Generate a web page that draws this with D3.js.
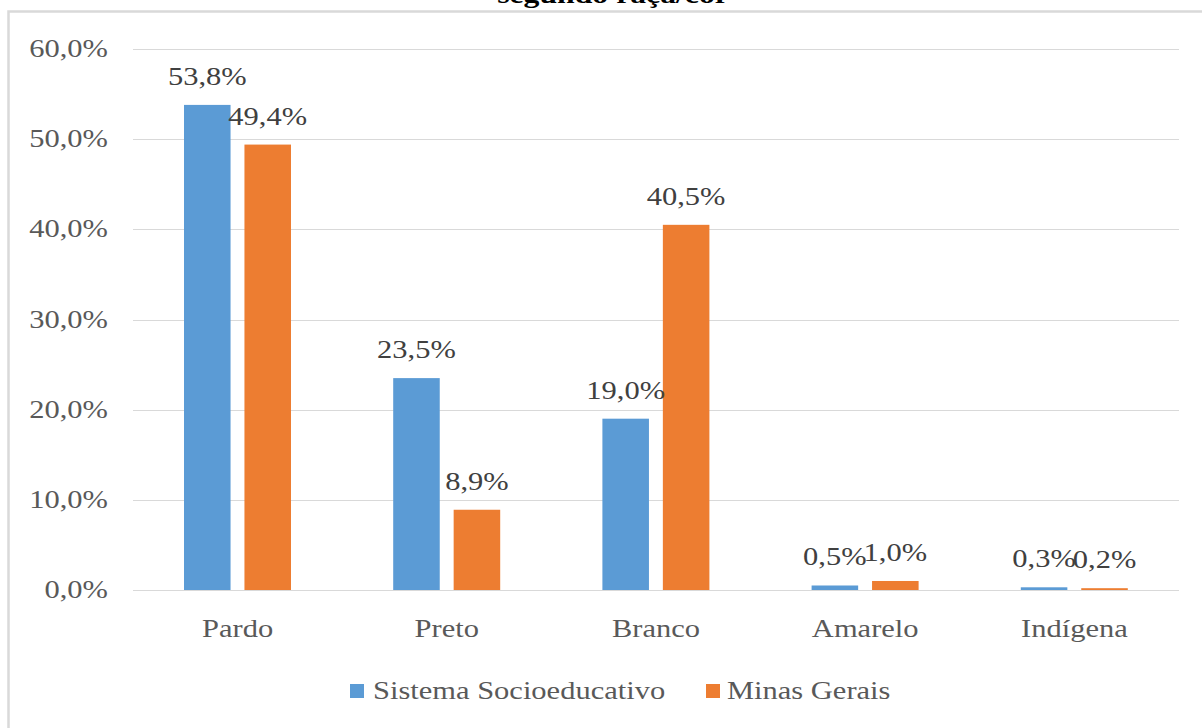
<!DOCTYPE html>
<html>
<head>
<meta charset="utf-8">
<script src="https://cdn.jsdelivr.net/npm/d3@7"></script>
<style>
  html, body { margin: 0; padding: 0; background: #fff; overflow: hidden; }
  text { font-family: "Liberation Serif", "Times New Roman", serif; }
</style>
</head>
<body>
<div id="chart"></div>
<script>
var categories = ["Pardo", "Preto", "Branco", "Amarelo", "Indígena"];
var seriesNames = ["Sistema Socioeducativo", "Minas Gerais"];
var socioeducativo = [53.8, 23.5, 19.0, 0.5, 0.3];
var minasGerais = [49.4, 8.9, 40.5, 1.0, 0.2];
var yTicks = [0, 10, 20, 30, 40, 50, 60];
var colors = ["#5b9bd5", "#ed7d31"];

var W = 1202, H = 728;
var stretch = 1.22;
var fmt = (v) => v.toFixed(1).replace(".", ",") + "%";

var svg = d3.select("#chart").append("svg")
    .attr("width", W)
    .attr("height", H);

// outer frame, runs off the right and bottom
svg.append("rect")
    .attr("x", 8.5).attr("y", 11.5)
    .attr("width", 1300).attr("height", 800)
    .attr("fill", "none")
    .attr("stroke", "#d9d9d9")
    .attr("stroke-width", 2.5);

// helper: horizontally stretched text like the source image
function sText(g, x, y, str, opts) {
    var t = g.append("g")
        .attr("transform", "translate(" + x + "," + y + ") scale(" + stretch + ",1)")
        .append("text")
        .attr("x", 0).attr("y", 0)
        .attr("text-anchor", opts.anchor || "middle")
        .attr("font-size", opts.size || 25)
        .attr("fill", opts.fill || "#595959")
        .text(str);
    if (opts.bold) t.attr("font-weight", "bold");
    return t;
}

// clipped title
sText(svg, 613, 3, "segundo raça/cor", { size: 26, fill: "#000", bold: true });

var plotLeft = 133, plotRight = 1179, plotTop = 49, plotBottom = 590;

var x = d3.scaleBand().domain(categories).range([plotLeft, plotRight]);
var x1 = d3.scaleBand().domain(seriesNames).range([51, 158]).paddingInner(0.23);
var y = d3.scaleLinear().domain([0, 60]).range([plotBottom, plotTop]);

// gridlines
svg.append("g").selectAll("line")
    .data(yTicks)
    .enter()
    .append("line")
    .attr("x1", plotLeft).attr("x2", plotRight)
    .attr("y1", (d) => Math.round(y(d)) + 0.5)
    .attr("y2", (d) => Math.round(y(d)) + 0.5)
    .attr("stroke", "#d9d9d9")
    .attr("stroke-width", 1.2);

// y tick labels
yTicks.forEach((d) => {
    sText(svg, 108, y(d) + 8, fmt(d), { anchor: "end" });
});

// bars
var rows = categories.map((c, i) => ({ cat: c, vals: [socioeducativo[i], minasGerais[i]] }));
var groups = svg.selectAll(".grp")
    .data(rows)
    .enter()
    .append("g")
    .attr("class", "grp")
    .attr("transform", (d) => "translate(" + x(d.cat) + ",0)");

groups.selectAll("rect")
    .data((d) => d.vals.map((v, j) => ({ v: v, s: seriesNames[j], j: j })))
    .enter()
    .append("rect")
    .attr("x", (d) => x1(d.s))
    .attr("width", x1.bandwidth())
    .attr("y", (d) => y(d.v))
    .attr("height", (d) => plotBottom - y(d.v))
    .attr("fill", (d) => colors[d.j]);

// value labels
rows.forEach((r) => {
    r.vals.forEach((v, j) => {
        var cx = x(r.cat) + x1(seriesNames[j]) + x1.bandwidth() / 2;
        sText(svg, cx, y(v) - 20, fmt(v), { fill: "#404040" });
    });
});

// category labels
categories.forEach((c) => {
    sText(svg, x(c) + x.bandwidth() / 2, 637, c, {});
});

// legend
var legendItems = [
    { name: seriesNames[0], sx: 350, tx: 373 },
    { name: seriesNames[1], sx: 706, tx: 727 }
];
legendItems.forEach((d, i) => {
    svg.append("rect")
        .attr("x", d.sx).attr("y", 684)
        .attr("width", 14).attr("height", 14)
        .attr("fill", colors[i]);
    sText(svg, d.tx, 699, d.name, { anchor: "start" });
});
</script>
</body>
</html>
